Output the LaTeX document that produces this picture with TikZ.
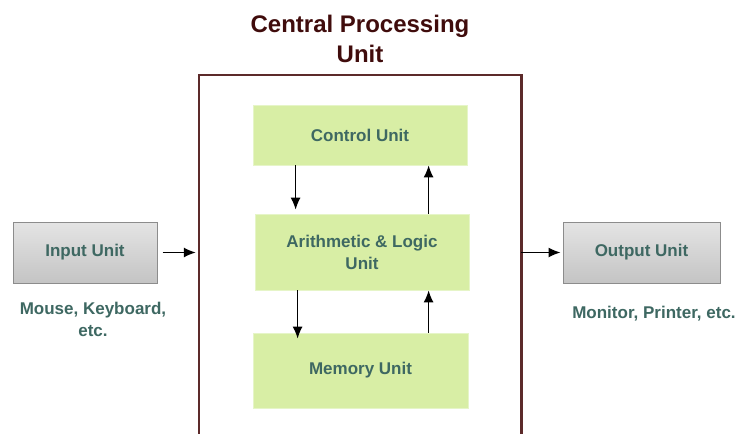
\documentclass[tikz,border=0pt]{standalone}
\usepackage{fontspec}
\setmainfont{Liberation Sans}
\usetikzlibrary{arrows.meta,calc}
\definecolor{txt}{RGB}{62,104,98}
\definecolor{ttl}{RGB}{64,12,12}
\definecolor{grn}{RGB}{216,238,165}
\definecolor{grnb}{RGB}{230,245,200}
\definecolor{cpuc}{RGB}{92,42,42}
\definecolor{gtop}{RGB}{228,228,228}
\definecolor{gbot}{RGB}{196,196,196}
\definecolor{gbrd}{RGB}{140,140,140}
\begin{document}
\begin{tikzpicture}[x=1pt,y=-1pt,
  lbl/.style={font=\fontsize{17}{22}\selectfont\bfseries, text=txt, align=center},
  unitbox/.style={lbl, fill=grn, draw=grnb, line width=0.8pt, inner sep=0pt},
  iobox/.style={lbl, draw=gbrd, line width=1pt, top color=gtop, bottom color=gbot, inner sep=0pt},
  arr/.style={-{Latex[length=12pt,width=10pt]}, line width=1.3pt, black}]
\useasboundingbox (0,0) rectangle (740,434);
\fill[white] (0,0) rectangle (740,434);
% title
\node[font=\fontsize{24}{30}\selectfont\bfseries, text=ttl, align=center] (title) at (360,39) {Central Processing\\Unit};
% CPU box (open at bottom)
\node[draw=none, minimum width=322pt, minimum height=359pt, inner sep=0pt] (cpu) at (360,254.5) {};
\draw[cpuc, line width=2.6pt] (cpu.south west) -- (cpu.north west) -- (cpu.north east) -- (cpu.south east);
% inner units
\node[unitbox, minimum width=214pt, minimum height=60pt] (control) at (360,135) {Control Unit};
\node[unitbox, minimum width=214pt, minimum height=76pt] (alu) at (362,252) {Arithmetic \& Logic\\Unit};
\node[unitbox, minimum width=215pt, minimum height=75pt] (memory) at (360.5,370.5) {Memory Unit};
% io boxes
\node[iobox, minimum width=144pt, minimum height=61pt] (input) at (85,252.5) {Input Unit};
\node[iobox, minimum width=157pt, minimum height=61pt] (output) at (641.5,252.5) {Output Unit};
\node[lbl] (inlabel) at (93,319) {Mouse, Keyboard,\\etc.};
\node[lbl] (outlabel) at (654,314) {Monitor, Printer, etc.};
% arrows
\draw[arr, shorten <=5pt, shorten >=3pt] (input.east) -- (input.east -| cpu.west);
\draw[arr, shorten >=2pt] (output.west -| cpu.east) -- (output.west);
\draw[arr, shorten >=4pt] ($(control.south west)+(43,0)$) coordinate (c1) -- (c1 |- alu.north);
\draw[arr] ($(alu.north west)+(174,0)$) coordinate (c2) -- (c2 |- control.south);
\draw[arr, shorten >=-6pt] ($(alu.south west)+(43,0)$) coordinate (c3) -- (c3 |- memory.north);
\draw[arr] ($(memory.north west)+(176,0)$) coordinate (c4) -- (c4 |- alu.south);
\end{tikzpicture}
\end{document}
